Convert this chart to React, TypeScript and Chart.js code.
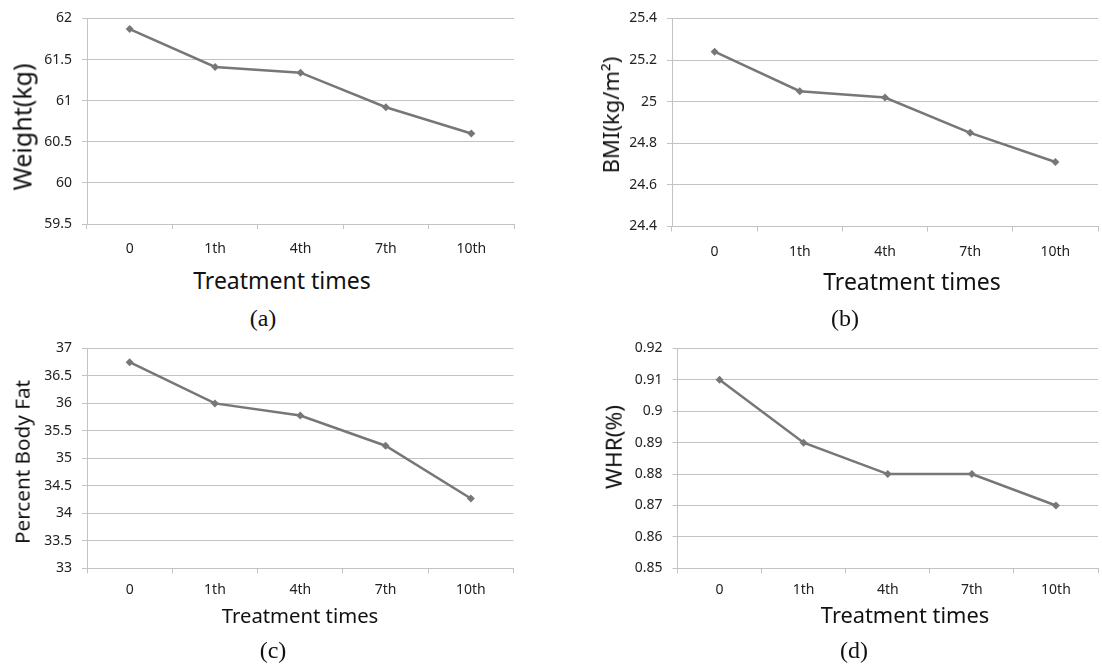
import React, { useEffect, useRef } from "react";
import { Chart, registerables } from "chart.js";

Chart.register(...registerables);

const categories = ["0", "1th", "4th", "7th", "10th"];

const weightValues = [61.87, 61.41, 61.34, 60.92, 60.6];
const bmiValues = [25.24, 25.05, 25.02, 24.85, 24.71];
const fatValues = [36.75, 36.0, 35.78, 35.23, 34.27];
const whrValues = [0.91, 0.89, 0.88, 0.88, 0.87];

const weightTicks = [59.5, 60, 60.5, 61, 61.5, 62];
const bmiTicks = [24.4, 24.6, 24.8, 25, 25.2, 25.4];
const fatTicks = [33, 33.5, 34, 34.5, 35, 35.5, 36, 36.5, 37];
const whrTicks = [0.85, 0.86, 0.87, 0.88, 0.89, 0.9, 0.91, 0.92];

const GRID = "#c3c3c3";
const LINE = "#777777";
const TICK_FONT = "'Noto Sans', 'DejaVu Sans', sans-serif";

type Txt = { text: string; x: number; y: number; size: number; rotate?: boolean; serif?: boolean };

type PanelCfg = {
  values: number[];
  ticks: number[];
  canvas: { left: number; top: number; width: number; height: number };
  plot: { left: number; top: number; right: number; bottom: number };
  xPad: number;
  texts: Txt[];
};

const panels: PanelCfg[] = [
  {
    values: weightValues,
    ticks: weightTicks,
    canvas: { left: 0, top: 0, width: 530, height: 262 },
    plot: { left: 87, top: 13.5, right: 514, bottom: 224 },
    xPad: 11.5,
    texts: [
      { text: "Treatment times", x: 282, y: 280, size: 23 },
      { text: "Weight(kg)", x: 22, y: 127, size: 25, rotate: true },
      { text: "(a)", x: 263, y: 318, size: 24, serif: true },
    ],
  },
  {
    values: bmiValues,
    ticks: bmiTicks,
    canvas: { left: 550, top: 0, width: 552, height: 265 },
    plot: { left: 672, top: 16, right: 1102, bottom: 226.5 },
    xPad: 11.7,
    texts: [
      { text: "Treatment times", x: 912, y: 281, size: 23 },
      { text: "BMI(kg/m²)", x: 610, y: 115, size: 22, rotate: true },
      { text: "(b)", x: 845, y: 318, size: 24, serif: true },
    ],
  },
  {
    values: fatValues,
    ticks: fatTicks,
    canvas: { left: 0, top: 330, width: 530, height: 272 },
    plot: { left: 87, top: 347.3, right: 513.5, bottom: 568.3 },
    xPad: 8.3,
    texts: [
      { text: "Treatment times", x: 300, y: 615, size: 20.3 },
      { text: "Percent Body Fat", x: 22, y: 462, size: 20.7, rotate: true },
      { text: "(c)", x: 273, y: 650, size: 24, serif: true },
    ],
  },
  {
    values: whrValues,
    ticks: whrTicks,
    canvas: { left: 550, top: 330, width: 552, height: 272 },
    plot: { left: 677.5, top: 345, right: 1102, bottom: 568.3 },
    xPad: 8.3,
    texts: [
      { text: "Treatment times", x: 905, y: 615, size: 21.8 },
      { text: "WHR(%)", x: 614, y: 447, size: 22.6, rotate: true },
      { text: "(d)", x: 854, y: 650, size: 24, serif: true },
    ],
  },
];

function Panel({ cfg }: { cfg: PanelCfg }) {
  const ref = useRef<HTMLCanvasElement | null>(null);
  useEffect(() => {
    if (!ref.current) return;
    const c = cfg.canvas;
    const p = cfg.plot;
    const yWidth = p.left - c.left;
    const xHeight = c.top + c.height - p.bottom;
    const chart = new Chart(ref.current, {
      type: "line",
      data: {
        labels: categories,
        datasets: [
          {
            data: cfg.values,
            borderColor: LINE,
            backgroundColor: LINE,
            borderWidth: 2.5,
            pointStyle: "rectRot",
            pointRadius: 4,
            pointBorderWidth: 0,
            pointBackgroundColor: LINE,
            tension: 0,
            fill: false,
          },
        ],
      },
      options: {
        responsive: false,
        animation: false,
        events: [],
        layout: {
          padding: {
            left: 0,
            top: p.top - c.top,
            right: c.left + c.width - p.right,
            bottom: 0,
          },
        },
        plugins: {
          legend: { display: false },
          tooltip: { enabled: false },
          title: { display: false },
        },
        scales: {
          x: {
            type: "category",
            offset: true,
            grid: {
              display: true,
              offset: true,
              drawOnChartArea: false,
              drawTicks: true,
              tickLength: 5,
              color: GRID,
              lineWidth: 1,
            },
            border: { display: true, color: GRID, width: 1 },
            ticks: {
              color: "#222",
              font: { family: TICK_FONT, size: 14 },
              padding: cfg.xPad,
              maxRotation: 0,
              autoSkip: false,
            },
            afterFit: (scale: any) => {
              scale.height = xHeight;
            },
          },
          y: {
            type: "linear",
            min: cfg.ticks[0],
            max: cfg.ticks[cfg.ticks.length - 1],
            afterBuildTicks: (scale: any) => {
              scale.ticks = cfg.ticks.map((v) => ({ value: v }));
            },
            grid: {
              color: GRID,
              lineWidth: 1,
              drawTicks: true,
              tickLength: 5,
            },
            border: { display: true, color: GRID, width: 1 },
            ticks: {
              color: "#222",
              font: { family: TICK_FONT, size: 14 },
              padding: 10,
              callback: (v: any) => String(v),
            },
            afterFit: (scale: any) => {
              scale.width = yWidth;
            },
          },
        },
      },
    });
    return () => chart.destroy();
  }, [cfg]);

  const c = cfg.canvas;
  return (
    <>
      <canvas
        ref={ref}
        width={c.width}
        height={c.height}
        style={{ position: "absolute", left: c.left, top: c.top, width: c.width, height: c.height }}
      />
      {cfg.texts.map((t, i) => (
        <div
          key={i}
          style={{
            position: "absolute",
            left: t.x,
            top: t.y,
            transform: `translate(-50%, -50%)${t.rotate ? " rotate(-90deg)" : ""}`,
            whiteSpace: "nowrap",
            lineHeight: 1,
            fontSize: t.size,
            fontFamily: t.serif
              ? "'Liberation Serif', 'DejaVu Serif', serif"
              : "'Noto Sans', 'DejaVu Sans', sans-serif",
            color: "#111",
          }}
        >
          {t.text}
        </div>
      ))}
    </>
  );
}

export default function App() {
  return (
    <div
      style={{
        position: "absolute",
        left: 0,
        top: 0,
        width: 1102,
        height: 666,
        background: "#fff",
        overflow: "hidden",
      }}
    >
      {panels.map((p, i) => (
        <Panel key={i} cfg={p} />
      ))}
    </div>
  );
}
